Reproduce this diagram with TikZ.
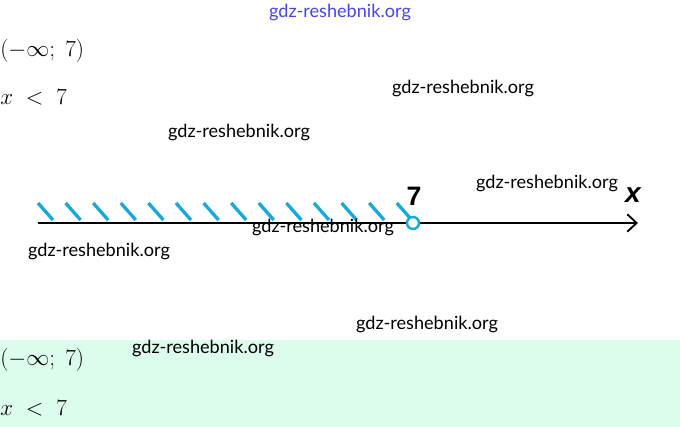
\documentclass[tikz,border=0pt]{standalone}
\usepackage{fontspec}
\newfontfamily\wmfont{Lato}
\newfontfamily\lblfont{Liberation Sans}
\usetikzlibrary{arrows.meta}
\definecolor{hatchblue}{RGB}{24,168,218}
\definecolor{bandgreen}{RGB}{220,253,235}
\definecolor{wmblue}{RGB}{70,70,225}
\tikzset{
  wm/.style={font=\wmfont\fontsize{13.6}{15}\selectfont,inner sep=0pt},
  mathtxt/.style={font=\fontsize{16}{19}\selectfont,inner sep=0pt,anchor=west},
  axislbl/.style={font=\lblfont\bfseries\fontsize{20}{22}\selectfont,inner sep=0pt}
}
\begin{document}
\begin{tikzpicture}[x=0.75pt,y=-0.75pt]
\useasboundingbox (0,0) rectangle (680,427);
\fill[bandgreen] (0,340) rectangle (680,427);
\node[mathtxt] (int1) at (0,51) {$(-\infty;\ 7)$};
\node[mathtxt] (ineq1) at (0,97) {$x\ <\ 7$};
\node[mathtxt] (int2) at (0,360) {$(-\infty;\ 7)$};
\node[mathtxt] (ineq2) at (0,408) {$x\ <\ 7$};
% number line
\coordinate (start) at (38,223);
\coordinate (end) at (638,223);
\foreach \k in {0,...,13}
  \draw[hatchblue,line width=2.5pt] ({38+27.6*\k},203) -- ++(15,17);
\draw[line width=1.9pt,-{Straight Barb[length=7pt,width=13pt,line width=1.4pt]}] (start) -- (end);
\node[circle,draw=hatchblue,fill=white,line width=1.8pt,minimum size=9pt,inner sep=0pt] (pt) at (413,223) {};
\node[axislbl] (seven) at (414,196) {7};
\node[axislbl,font=\lblfont\bfseries\itshape\fontsize{21}{23}\selectfont] (xlbl) at (633,195) {x};
% watermarks
\node[wm,text=wmblue] (w0) at (340,12) {gdz-reshebnik.org};
\node[wm] (w1) at (463,88) {gdz-reshebnik.org};
\node[wm] (w2) at (239,132) {gdz-reshebnik.org};
\node[wm] (w3) at (547,183) {gdz-reshebnik.org};
\node[wm] (w4) at (323,227) {gdz-reshebnik.org};
\node[wm] (w5) at (99,251) {gdz-reshebnik.org};
\node[wm] (w6) at (427,324) {gdz-reshebnik.org};
\node[wm] (w7) at (203,348) {gdz-reshebnik.org};
\end{tikzpicture}
\end{document}
